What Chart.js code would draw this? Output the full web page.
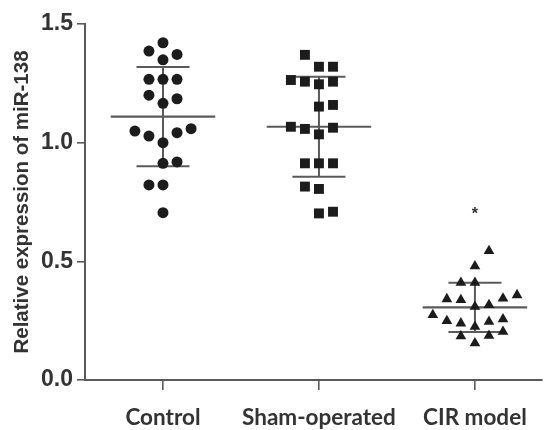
<!DOCTYPE html>
<html>
<head>
<meta charset="utf-8">
<script src="https://cdn.jsdelivr.net/npm/chart.js@4/dist/chart.umd.min.js"></script>
<style>
  body { margin: 0; background: #fff; }
  canvas { display: block; }
</style>
</head>
<body>
<canvas id="chart" width="549" height="430"></canvas>
<script>
const groups = ['Control', 'Sham-operated', 'CIR model'];
const yTicks = [0, 0.5, 1.0, 1.5];

// values, with their dot column (left/right of centre)
const controlVals = [1.421, 1.386, 1.372, 1.349, 1.267, 1.267, 1.267, 1.200, 1.185, 1.166,
  1.049, 1.028, 1.042, 1.059, 1.000, 0.913, 0.919, 0.822, 0.822, 0.705];
const controlCols = [0, -1, 1, 0, -1, 0, 1, -1, 1, 0, -2, -1, 1, 2, 0, 0, 1, -1, 0, 0];

const shamVals = [1.370, 1.320, 1.320, 1.264, 1.257, 1.246, 1.257, 1.152, 1.159, 1.067,
  1.058, 1.063, 1.035, 0.913, 0.913, 0.913, 0.815, 0.805, 0.702, 0.709];
const shamCols = [-1, 0, 1, -2, -1, 0, 1, 0, 1, -2, -1, 1, 0, -1, 0, 1, -1, 0, 0, 1];

const cirVals = [0.544, 0.480, 0.410, 0.410, 0.341, 0.337, 0.316, 0.344, 0.358, 0.309,
  0.274, 0.249, 0.239, 0.246, 0.256, 0.225, 0.204, 0.185, 0.187, 0.155];
const cirCols = [1, 0, -1, 0, -2, -1, 1, 2, 3, 0, -3, -2, -1, 1, 2, 0, 2, -1, 1, 0];

const means = [1.110, 1.067, 0.306];
const sds = [0.209, 0.211, 0.104];
const starY = 0.709; // significance mark over CIR model

const colStep = 0.09;
const meanHalf = 0.335;
const sdHalf = 0.17;
const lineGrey = '#5a5a5a';
const dotColor = '#1c1c1c';

function dots(vals, cols, g) {
  return vals.map((v, i) => ({ x: g + cols[i] * colStep, y: v }));
}

const pointSets = [
  { data: dots(controlVals, controlCols, 0), pointStyle: 'circle', pointRadius: 5.5 },
  { data: dots(shamVals, shamCols, 1), pointStyle: 'rect', pointRadius: 7 },
  { data: dots(cirVals, cirCols, 2), pointStyle: 'triangle', pointRadius: 6.2 }
].map(d => Object.assign(d, {
  type: 'scatter',
  backgroundColor: dotColor,
  borderColor: dotColor,
  borderWidth: 0,
  order: 1
}));

function seg(points, width) {
  return {
    type: 'line',
    data: points,
    borderColor: lineGrey,
    borderWidth: width,
    pointRadius: 0,
    fill: false,
    order: 2
  };
}

const lineSets = [];
means.forEach((m, g) => {
  lineSets.push(seg([{ x: g - meanHalf, y: m }, { x: g + meanHalf, y: m }], 2.2));
  lineSets.push(seg([{ x: g - sdHalf, y: m + sds[g] }, { x: g + sdHalf, y: m + sds[g] }], 2));
  lineSets.push(seg([{ x: g - sdHalf, y: m - sds[g] }, { x: g + sdHalf, y: m - sds[g] }], 2));
  lineSets.push(seg([{ x: g, y: m - sds[g] }, { x: g, y: m + sds[g] }], 2));
});

const starPlugin = {
  id: 'star',
  afterDatasetsDraw(chart) {
    const { ctx, scales } = chart;
    ctx.save();
    ctx.fillStyle = '#333';
    ctx.font = 'bold 16px "Liberation Sans", Arial, sans-serif';
    ctx.textAlign = 'center';
    ctx.textBaseline = 'middle';
    ctx.fillText('*', scales.x.getPixelForValue(2), scales.y.getPixelForValue(starY) + 3);
    ctx.restore();
  }
};

new Chart(document.getElementById('chart'), {
  data: { datasets: [...lineSets, ...pointSets] },
  plugins: [starPlugin],
  options: {
    responsive: false,
    animation: false,
    layout: { padding: { top: 24, right: 0, left: 0, bottom: 0 } },
    plugins: { legend: { display: false }, tooltip: { enabled: false } },
    scales: {
      x: {
        type: 'linear',
        min: -0.5,
        max: 2.43,
        afterBuildTicks: s => { s.ticks = groups.map((_, i) => ({ value: i })); },
        afterFit: s => { s.height = 50; },
        ticks: {
          callback: v => groups[v],
          color: '#333',
          font: { family: 'Lato', weight: 'bold', size: 22.5 },
          padding: 14,
          maxRotation: 0
        },
        grid: { drawOnChartArea: false, drawTicks: true, tickLength: 10, color: lineGrey, lineWidth: 1.6 },
        border: { color: lineGrey, width: 2 }
      },
      y: {
        min: 0,
        max: 1.5,
        afterBuildTicks: s => { s.ticks = yTicks.map(v => ({ value: v })); },
        afterFit: s => { s.width = 85; },
        ticks: {
          callback: v => v.toFixed(1),
          color: '#333',
          font: { family: '"Liberation Sans", Arial', weight: 'bold', size: 23 },
          padding: 4
        },
        title: {
          display: true,
          text: 'Relative expression of miR-138',
          color: '#333',
          font: { family: '"Liberation Sans", Arial', weight: 'bold', size: 20.5 },
          padding: { top: 10, bottom: 0 }
        },
        grid: { drawOnChartArea: false, drawTicks: true, tickLength: 8, color: lineGrey, lineWidth: 1.6 },
        border: { color: lineGrey, width: 2 }
      }
    }
  }
});
</script>
</body>
</html>
